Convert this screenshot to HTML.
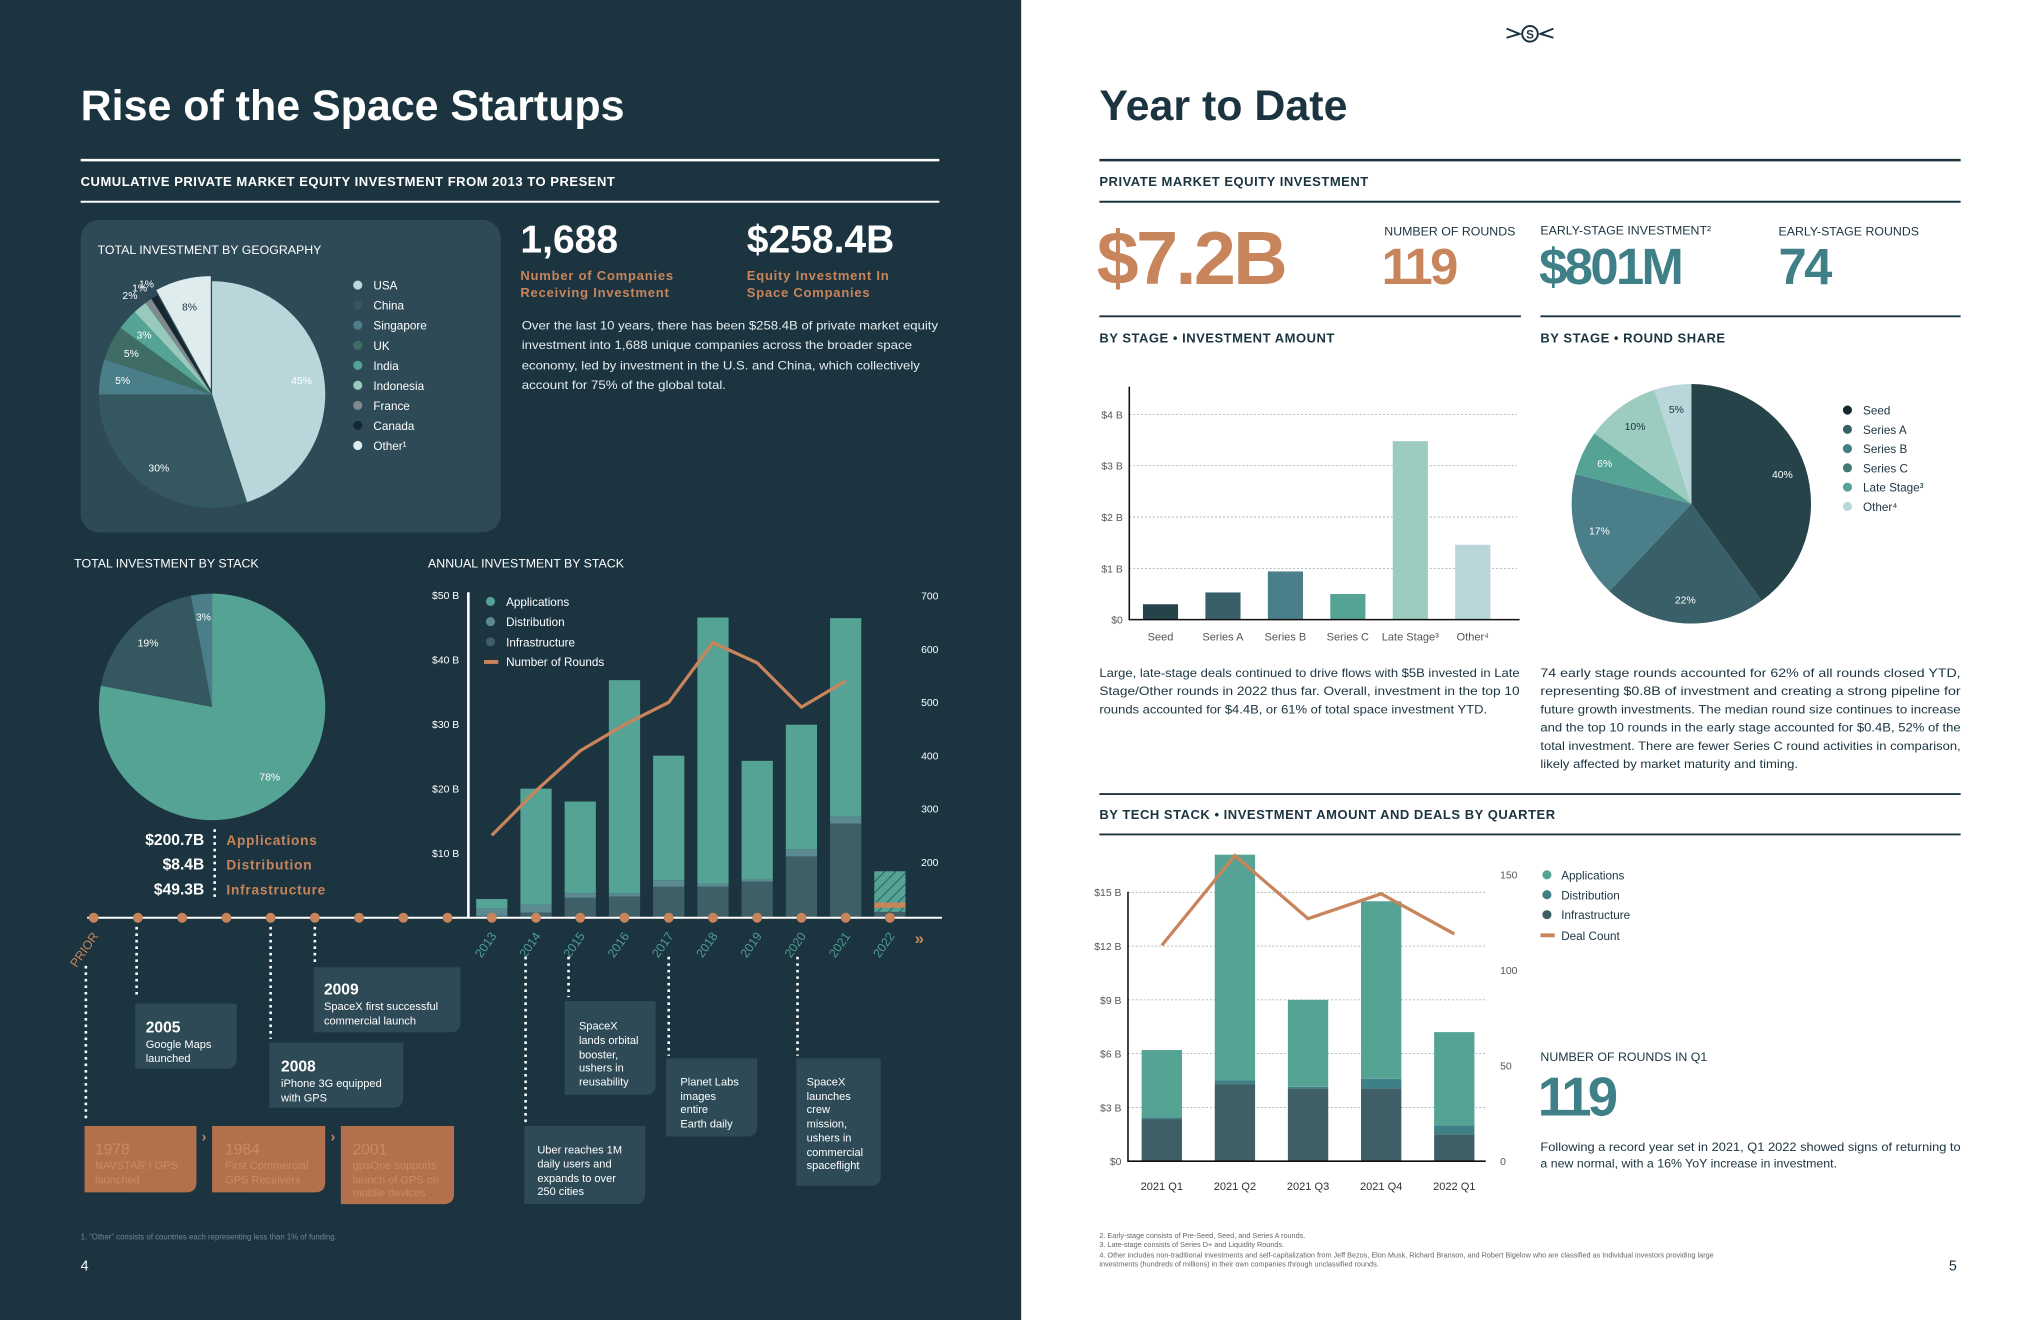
<!DOCTYPE html>
<html><head><meta charset="utf-8"><style>
html,body{margin:0;padding:0;background:#fff}
svg{display:block}
text{font-family:"Liberation Sans",sans-serif}
</style></head><body>
<svg id="page" width="2040" height="1320" viewBox="0 0 1568 1014" preserveAspectRatio="none" xmlns="http://www.w3.org/2000/svg">
<defs>
<pattern id="hatch" width="6" height="6" patternUnits="userSpaceOnUse" patternTransform="rotate(45)"><rect width="6" height="6" fill="#55a394"/><line x1="0" y1="0" x2="0" y2="6" stroke="#1b3440" stroke-width="1"/></pattern>
</defs>
<rect x="0" y="0" width="785" height="1014" fill="#1b3440"/>
<rect x="785" y="0" width="783" height="1014" fill="#ffffff"/>

<!-- LEFT PAGE -->
<text x="62" y="92" font-size="33" font-weight="bold" fill="#fff">Rise of the Space Startups</text>
<line x1="62" y1="123" x2="722" y2="123" stroke="#fff" stroke-width="2"/>
<text x="62" y="143" font-size="10" font-weight="bold" fill="#fff" letter-spacing="0.4">CUMULATIVE PRIVATE MARKET EQUITY INVESTMENT FROM 2013 TO PRESENT</text>
<line x1="62" y1="155" x2="722" y2="155" stroke="#fff" stroke-width="1.5"/>
<rect x="62" y="169" width="323" height="240" rx="14" fill="#2e4a56"/>
<text x="75" y="195" font-size="9.5" fill="#fff">TOTAL INVESTMENT BY GEOGRAPHY</text>
<g id="geoPie"></g>
<g id="geoLegend"></g>

<text x="400" y="194" font-size="30" font-weight="bold" fill="#fff">1,688</text>
<text x="574" y="194" font-size="30" font-weight="bold" fill="#fff">$258.4B</text>
<text x="400" y="215" font-size="10" font-weight="bold" fill="#c8845a" letter-spacing="0.6">Number of Companies</text>
<text x="400" y="228" font-size="10" font-weight="bold" fill="#c8845a" letter-spacing="0.6">Receiving Investment</text>
<text x="574" y="215" font-size="10" font-weight="bold" fill="#c8845a" letter-spacing="0.6">Equity Investment In</text>
<text x="574" y="228" font-size="10" font-weight="bold" fill="#c8845a" letter-spacing="0.6">Space Companies</text>
<g font-size="9" fill="#e4ecee">
<text x="401" y="253" textLength="320" lengthAdjust="spacingAndGlyphs">Over the last 10 years, there has been $258.4B of private market equity</text>
<text x="401" y="268" textLength="300" lengthAdjust="spacingAndGlyphs">investment into 1,688 unique companies across the broader space</text>
<text x="401" y="284" textLength="306" lengthAdjust="spacingAndGlyphs">economy, led by investment in the U.S. and China, which collectively</text>
<text x="401" y="299" textLength="157" lengthAdjust="spacingAndGlyphs">account for 75% of the global total.</text>
</g>

<text x="57" y="436" font-size="9.5" fill="#fff">TOTAL INVESTMENT BY STACK</text>
<text x="329" y="436" font-size="9.5" fill="#fff">ANNUAL INVESTMENT BY STACK</text>
<g id="stackPie"></g>
<line x1="165" y1="637" x2="165" y2="692" stroke="#fff" stroke-width="2" stroke-dasharray="2 3"/>
<g font-size="12" font-weight="bold">
<text x="157" y="649" text-anchor="end" fill="#fff">$200.7B</text><text x="174" y="649" fill="#c8845a" font-size="10.5" letter-spacing="0.6">Applications</text>
<text x="157" y="668" text-anchor="end" fill="#fff">$8.4B</text><text x="174" y="668" fill="#c8845a" font-size="10.5" letter-spacing="0.6">Distribution</text>
<text x="157" y="687" text-anchor="end" fill="#fff">$49.3B</text><text x="174" y="687" fill="#c8845a" font-size="10.5" letter-spacing="0.6">Infrastructure</text>
</g>

<g id="annual"></g>
<g id="timeline"></g>

<g fill="#fff">
<path d="M104 771 H182 V813 Q182 821 174 821 H104 Z" fill="#2e4a56"/>
<text x="112" y="793" font-size="12" font-weight="bold">2005</text><text x="112" y="805" font-size="8.5">Google Maps</text><text x="112" y="816" font-size="8.5">launched</text>
<path d="M241 743 H354 V785 Q354 793 346 793 H241 Z" fill="#2e4a56"/>
<text x="249" y="764" font-size="12" font-weight="bold">2009</text><text x="249" y="776" font-size="8.5">SpaceX first successful</text><text x="249" y="787" font-size="8.5">commercial launch</text>
<path d="M207 801 H310 V843 Q310 851 302 851 H207 Z" fill="#2e4a56"/>
<text x="216" y="823" font-size="12" font-weight="bold">2008</text><text x="216" y="835" font-size="8.5">iPhone 3G equipped</text><text x="216" y="846" font-size="8.5">with GPS</text>
<path d="M434 769 H504 V833 Q504 841 496 841 H434 Z" fill="#2e4a56"/>
<text x="445" y="791" font-size="8.5">SpaceX</text><text x="445" y="802" font-size="8.5">lands orbital</text><text x="445" y="813" font-size="8.5">booster,</text><text x="445" y="823" font-size="8.5">ushers in</text><text x="445" y="834" font-size="8.5">reusability</text>
<path d="M512 813 H582 V865 Q582 873 574 873 H512 Z" fill="#2e4a56"/>
<text x="523" y="834" font-size="8.5">Planet Labs</text><text x="523" y="845" font-size="8.5">images</text><text x="523" y="855" font-size="8.5">entire</text><text x="523" y="866" font-size="8.5">Earth daily</text>
<path d="M612 813 H677 V903 Q677 911 669 911 H612 Z" fill="#2e4a56"/>
<text x="620" y="834" font-size="8.5">SpaceX</text><text x="620" y="845" font-size="8.5">launches</text><text x="620" y="855" font-size="8.5">crew</text><text x="620" y="866" font-size="8.5">mission,</text><text x="620" y="877" font-size="8.5">ushers in</text><text x="620" y="888" font-size="8.5">commercial</text><text x="620" y="898" font-size="8.5">spaceflight</text>
<path d="M403 865 H496 V917 Q496 925 488 925 H403 Z" fill="#2e4a56"/>
<text x="413" y="886" font-size="8.5">Uber reaches 1M</text><text x="413" y="897" font-size="8.5">daily users and</text><text x="413" y="908" font-size="8.5">expands to over</text><text x="413" y="918" font-size="8.5">250 cities</text>
</g>
<g fill="#c98a62">
<path d="M65 865 H151 V908 Q151 916 143 916 H65 Z" fill="#b2714c"/>
<text x="73" y="887" font-size="12">1978</text><text x="73" y="898" font-size="8.5">NAVSTAR I GPS</text><text x="73" y="909" font-size="8.5">launched</text>
<path d="M163 865 H250 V908 Q250 916 242 916 H163 Z" fill="#b2714c"/>
<text x="173" y="887" font-size="12">1984</text><text x="173" y="898" font-size="8.5">First Commercial</text><text x="173" y="909" font-size="8.5">GPS Receivers</text>
<path d="M262 865 H349 V917 Q349 925 341 925 H262 Z" fill="#b2714c"/>
<text x="271" y="887" font-size="12">2001</text><text x="271" y="898" font-size="8.5">gpsOne supports</text><text x="271" y="909" font-size="8.5">launch of GPS on</text><text x="271" y="919" font-size="8.5">mobile devices</text>
<text x="155" y="877" font-size="11" fill="#c8845a" font-weight="bold">›</text>
<text x="254" y="877" font-size="11" fill="#c8845a" font-weight="bold">›</text>
</g>
<g stroke="#fff" stroke-width="2" stroke-dasharray="2 3">
<line x1="66" y1="742" x2="66" y2="862"/><line x1="105" y1="712" x2="105" y2="767"/><line x1="208" y1="712" x2="208" y2="798"/><line x1="242" y1="712" x2="242" y2="742"/>
<line x1="404" y1="735" x2="404" y2="862"/><line x1="437" y1="735" x2="437" y2="766"/><line x1="514" y1="735" x2="514" y2="811"/><line x1="613" y1="735" x2="613" y2="811"/>
</g>
<text x="62" y="952" font-size="6" fill="#6f8891">1. “Other” consists of countries each representing less than 1% of funding.</text>
<text x="62" y="976" font-size="11" fill="#fff">4</text>

<!-- RIGHT PAGE -->
<g stroke="#1b3440" fill="none" stroke-width="1.5">
<circle cx="1176" cy="26" r="6"/><path d="M1158 22 L1168 26 L1158 29 M1194 22 L1184 26 L1194 29"/>
<text x="1176" y="29.5" font-size="9" font-weight="bold" text-anchor="middle" fill="#1b3440" stroke="none">S</text>
</g>
<text x="845" y="92" font-size="33" font-weight="bold" fill="#1b3440">Year to Date</text>
<line x1="845" y1="123" x2="1507" y2="123" stroke="#1b3440" stroke-width="2"/>
<text x="845" y="143" font-size="10" font-weight="bold" fill="#1b3440" letter-spacing="0.4">PRIVATE MARKET EQUITY INVESTMENT</text>
<line x1="845" y1="155" x2="1507" y2="155" stroke="#1b3440" stroke-width="1.5"/>
<text x="843" y="218" font-size="58" font-weight="bold" fill="#c8845a" letter-spacing="-2">$7.2B</text>
<text x="1064" y="181" font-size="9.5" fill="#1b3440">NUMBER OF ROUNDS</text>
<text x="1062" y="218" font-size="39" font-weight="bold" fill="#c8845a" letter-spacing="-2">119</text>
<text x="1184" y="180" font-size="9.5" fill="#1b3440">EARLY-STAGE INVESTMENT²</text>
<text x="1183" y="218" font-size="39" font-weight="bold" fill="#3f7f88" letter-spacing="-2">$801M</text>
<text x="1367" y="181" font-size="9.5" fill="#1b3440">EARLY-STAGE ROUNDS</text>
<text x="1367" y="218" font-size="39" font-weight="bold" fill="#3f7f88" letter-spacing="-2">74</text>
<line x1="845" y1="243" x2="1169" y2="243" stroke="#1b3440" stroke-width="1.5"/>
<line x1="1184" y1="243" x2="1507" y2="243" stroke="#1b3440" stroke-width="1.5"/>
<text x="845" y="263" font-size="10" font-weight="bold" fill="#1b3440" letter-spacing="0.4">BY STAGE  •  INVESTMENT AMOUNT</text>
<text x="1184" y="263" font-size="10" font-weight="bold" fill="#1b3440" letter-spacing="0.4">BY STAGE  •  ROUND SHARE</text>
<g id="stageChart"></g>
<g id="sharePie"></g>
<g font-size="9" fill="#1b3440">
<text x="845" y="520" textLength="323" lengthAdjust="spacingAndGlyphs">Large, late-stage deals continued to drive flows with $5B invested in Late</text>
<text x="845" y="534" textLength="323" lengthAdjust="spacingAndGlyphs">Stage/Other rounds in 2022 thus far. Overall, investment in the top 10</text>
<text x="845" y="548" textLength="298" lengthAdjust="spacingAndGlyphs">rounds accounted for $4.4B, or 61% of total space investment YTD.</text>
</g>
<g font-size="9" fill="#1b3440">
<text x="1184" y="520" textLength="323" lengthAdjust="spacingAndGlyphs">74 early stage rounds accounted for 62% of all rounds closed YTD,</text>
<text x="1184" y="534" textLength="323" lengthAdjust="spacingAndGlyphs">representing $0.8B of investment and creating a strong pipeline for</text>
<text x="1184" y="548" textLength="323" lengthAdjust="spacingAndGlyphs">future growth investments. The median round size continues to increase</text>
<text x="1184" y="562" textLength="323" lengthAdjust="spacingAndGlyphs">and the top 10 rounds in the early stage accounted for $0.4B, 52% of the</text>
<text x="1184" y="576" textLength="323" lengthAdjust="spacingAndGlyphs">total investment. There are fewer Series C round activities in comparison,</text>
<text x="1184" y="590" textLength="198" lengthAdjust="spacingAndGlyphs">likely affected by market maturity and timing.</text>
</g>
<line x1="845" y1="610" x2="1507" y2="610" stroke="#1b3440" stroke-width="1.5"/>
<text x="845" y="629" font-size="10" font-weight="bold" fill="#1b3440" letter-spacing="0.4">BY TECH STACK  •  INVESTMENT AMOUNT AND DEALS BY QUARTER</text>
<line x1="845" y1="641" x2="1507" y2="641" stroke="#1b3440" stroke-width="1.5"/>
<g id="quarterChart"></g>
<text x="1184" y="815" font-size="9.5" fill="#1b3440">NUMBER OF ROUNDS IN Q1</text>
<text x="1182" y="857" font-size="42" font-weight="bold" fill="#3f7f88" letter-spacing="-3">119</text>
<g font-size="9" fill="#1b3440">
<text x="1184" y="884" textLength="323" lengthAdjust="spacingAndGlyphs">Following a record year set in 2021, Q1 2022 showed signs of returning to</text>
<text x="1184" y="897" textLength="228" lengthAdjust="spacingAndGlyphs">a new normal, with a 16% YoY increase in investment.</text>
</g>
<g font-size="5.6" fill="#666">
<text x="845" y="951">2. Early-stage consists of Pre-Seed, Seed, and Series A rounds.</text>
<text x="845" y="958">3. Late-stage consists of Series D+ and Liquidity Rounds.</text>
<text x="845" y="966">4. Other includes non-traditional investments and self-capitalization from Jeff Bezos, Elon Musk, Richard Branson, and Robert Bigelow who are classified as Individual investors providing large</text>
<text x="845" y="973">investments (hundreds of millions) in their own companies through unclassified rounds.</text>
</g>
<text x="1498" y="976" font-size="11" fill="#1b3440">5</text>
</svg>

<script>
// ---------- DATA ----------
const geoLabels = ['USA','China','Singapore','UK','India','Indonesia','France','Canada','Other¹'];
const geoValues = [45,30,5,5,3,2,1,1,8];
const geoColors = ['#b9d7da','#35575f','#4a7f8a','#3f6d66','#55a394','#99c9bd','#7f8a8c','#15282f','#dfecee'];

const stackLabels = ['Applications','Infrastructure','Distribution'];
const stackValues = [78,19,3];
const stackColors = ['#55a394','#35575f','#4a7f8a'];

const years = ['2013','2014','2015','2016','2017','2018','2019','2020','2021','2022'];
const annualInfra = [0.3,0.8,3.1,3.3,4.8,4.8,5.6,9.5,14.6,0.9];
const annualDist = [1.1,1.2,0.7,0.5,1.0,0.5,0.4,1.1,1.1,0.0];
const annualApps = [1.5,18.0,14.2,33.0,19.3,41.2,18.3,19.3,30.7,6.3];
const annualRounds = [250,334,409,458,500,612,574,491,540];
const rounds2022 = 119;
const annualLeftTicks = [10,20,30,40,50];
const annualRightTicks = [200,300,400,500,600,700];

const stageLabels = ['Seed','Series A','Series B','Series C','Late Stage³','Other⁴'];
const stageValues = [0.30,0.53,0.94,0.50,3.48,1.46];
const stageColors = ['#264349','#395f68','#4a7f8a','#55a394','#9ccbbf','#b9d7da'];
const stageTicks = [0,1,2,3,4];

const shareLabels = ['Seed','Series A','Series B','Series C','Late Stage³','Other⁴'];
const shareValues = [40,22,17,6,10,5];
const shareColors = ['#264349','#395f68','#4a7f8a','#55a394','#9ccbbf','#b9d7da'];
const shareLegendColors = ['#15282f','#395f68','#3f7f88','#3f7a6e','#55a394','#b9d7da'];

const quarters = ['2021 Q1','2021 Q2','2021 Q3','2021 Q4','2022 Q1'];
const qInfra = [2.35,4.3,4.05,4.05,1.5];
const qDist = [0.1,0.2,0.1,0.55,0.5];
const qApps = [3.75,12.6,4.85,9.9,5.2];
const qDeals = [113,160,127,140,119];
const qLeftTicks = [0,3,6,9,12,15];
const qRightTicks = [0,50,100,150];

// ---------- HELPERS ----------
const NS='http://www.w3.org/2000/svg';
function mk(parent, tag, attrs, txt){
  const e=document.createElementNS(NS,tag);
  for(const k in attrs) e.setAttribute(k,attrs[k]);
  if(txt!==undefined) e.textContent=txt;
  parent.appendChild(e); return e;
}
function pt(cx,cy,r,deg){const a=(deg-90)*Math.PI/180;return [cx+r*Math.cos(a),cy+r*Math.sin(a)];}
function arc(cx,cy,r,a0,a1){
  const p0=pt(cx,cy,r,a0),p1=pt(cx,cy,r,a1);
  return 'M'+cx+' '+cy+' L'+p0[0]+' '+p0[1]+' A'+r+' '+r+' 0 '+((a1-a0)>180?1:0)+' 1 '+p1[0]+' '+p1[1]+' Z';
}
function pie(g,cx,cy,r,vals,cols,labFill,opts){
  const tot=vals.reduce((a,b)=>a+b,0); let a=0;
  vals.forEach((v,i)=>{
    const a1=a+v/tot*360, mid=(a+a1)/2;
    let ox=0,oy=0;
    if(opts.explode===i){const q=pt(0,0,4,mid);ox=q[0];oy=q[1];}
    const p=mk(g,'path',{d:arc(cx+ox,cy+oy,r,a,a1),fill:cols[i]});
    
    
    const rr = v < opts.small ? r+12 : r*0.8;
    const lp=pt(cx,cy,rr,mid);
    const fill = (opts.dark||[]).indexOf(i) !== -1 ? '#1b3440' : labFill;
    const t=mk(g,'text',{x:lp[0],y:lp[1]+3,'font-size':opts.fs,fill:fill,'text-anchor':'middle'},Math.round(v/tot*100)+'%');
    
    
    a=a1;
  });
}

// ---------- GEO PIE ----------
const geoG=document.getElementById('geoPie');
pie(geoG,163,303,87,geoValues,geoColors,'#fff',{explode:8,small:3,fs:8,dark:[8]});
const geoL=document.getElementById('geoLegend');
geoLabels.forEach((l,i)=>{
  const c=mk(geoL,'circle',{cx:275,cy:219+15.4*i,r:3.5,fill:geoColors[i]});
  
  
  const t=mk(geoL,'text',{x:287,y:222.5+15.4*i,'font-size':9,fill:'#fff'},l);
  
  
});

// ---------- STACK PIE ----------
pie(document.getElementById('stackPie'),163,543,87,stackValues,stackColors,'#fff',{explode:-1,small:0,fs:8});

// ---------- ANNUAL CHART ----------
const an=document.getElementById('annual');
const yL=v=>705-v*4.96, yR=r=>744-r*0.409;
const xYear=i=>378+i*34;
const axisL=mk(an,'line',{x1:360,y1:455,x2:360,y2:705,stroke:'#fff','stroke-width':2});


annualLeftTicks.forEach(v=>{
  const t=mk(an,'text',{x:353,y:yL(v)+3,'font-size':8,fill:'#fff','text-anchor':'end'},'$'+v+' B');
  
  
});
annualRightTicks.forEach(v=>{
  const t=mk(an,'text',{x:708,y:yR(v)+3,'font-size':8,fill:'#fff'},String(v));
  
  
});
years.forEach((yr,i)=>{
  const x=xYear(i)-12,w=24;
  const b0=mk(an,'rect',{x:x,y:yL(annualInfra[i]),width:w,height:annualInfra[i]*4.96,fill:'#3f5f66'});
  
  
  const s1=annualInfra[i]+annualDist[i];
  const b1=mk(an,'rect',{x:x,y:yL(s1),width:w,height:annualDist[i]*4.96,fill:'#5b8a93'});
  
  
  const s2=s1+annualApps[i];
  const b2=mk(an,'rect',{x:x,y:yL(s2),width:w,height:annualApps[i]*4.96,fill:i===years.length-1?'url(#hatch)':'#55a394'});
  
  
});
const line=mk(an,'polyline',{points:annualRounds.map((r,i)=>xYear(i)+','+yR(r)).join(' '),fill:'none',stroke:'#c8845a','stroke-width':2.5});


const ytd=mk(an,'rect',{x:xYear(9)-12,y:yR(rounds2022)-2,width:24,height:4,fill:'#c8845a'});


const legItems=['Applications','Distribution','Infrastructure'],legCols=['#55a394','#5b8a93','#3f5f66'];
legItems.forEach((l,i)=>{
  const c=mk(an,'circle',{cx:377,cy:462+15.5*i,r:3.5,fill:legCols[i]});
  
  
  const t=mk(an,'text',{x:389,y:465.5+15.5*i,'font-size':9,fill:'#fff'},l);
  
  
});
const ld=mk(an,'rect',{x:372,y:507,width:11,height:3,fill:'#c8845a'});


const lt=mk(an,'text',{x:389,y:511.5,'font-size':9,fill:'#fff'},'Number of Rounds');



// ---------- TIMELINE ----------
const tl=document.getElementById('timeline');
const tline=mk(tl,'line',{x1:67,y1:705,x2:724,y2:705,stroke:'#fff','stroke-width':1.5});


for(let i=0;i!==9;i++){
  const d=mk(tl,'circle',{cx:72+34*i,cy:705,r:3.8,fill:'#c8845a'});
  
  
}
years.forEach((yr,i)=>{
  const d=mk(tl,'circle',{cx:xYear(i),cy:705,r:3.8,fill:'#c8845a'});
  
  
  const t=mk(tl,'text',{x:xYear(i)+4,y:719,'font-size':9.5,fill:'#4f9c92','text-anchor':'end',transform:'rotate(-55 '+(xYear(i)+4)+' 719)'},yr);
  
  
});
const pr=mk(tl,'text',{x:76,y:719,'font-size':9.5,fill:'#c8845a','text-anchor':'end',transform:'rotate(-55 76 719)'},'PRIOR');


const more=mk(tl,'text',{x:703,y:725,'font-size':13,'font-weight':'bold',fill:'#c8845a'},'»');



// ---------- STAGE BAR CHART ----------
const sc=document.getElementById('stageChart');
const yS=v=>476-v*39.4, xS=i=>892+i*48;
stageTicks.forEach(v=>{
  if(v>0){const g=mk(sc,'line',{x1:868,y1:yS(v),x2:1166,y2:yS(v),stroke:'#9aa','stroke-width':0.6,'stroke-dasharray':'1.5 1.5'});
  
  }
  const t=mk(sc,'text',{x:863,y:yS(v)+3,'font-size':8,fill:'#555','text-anchor':'end'},v===0?'$0':'$'+v+' B');
  
  
});
stageValues.forEach((v,i)=>{
  const b=mk(sc,'rect',{x:xS(i)-13.5,y:yS(v),width:27,height:v*39.4,fill:stageColors[i]});
  
  
  const t=mk(sc,'text',{x:xS(i),y:492,'font-size':8.5,fill:'#555','text-anchor':'middle'},stageLabels[i]);
  
  
});
const sax=mk(sc,'path',{d:'M868 297 V476 H1168',fill:'none',stroke:'#111','stroke-width':1.2});



// ---------- SHARE PIE ----------
const sp=document.getElementById('sharePie');
pie(sp,1300,387,92,shareValues,shareColors,'#fff',{explode:-1,small:0,fs:8,dark:[4,5]});
shareLabels.forEach((l,i)=>{
  const c=mk(sp,'circle',{cx:1420,cy:315+14.8*i,r:3.5,fill:shareLegendColors[i]});
  
  
  const t=mk(sp,'text',{x:1432,y:318.5+14.8*i,'font-size':9,fill:'#1b3440'},l);
  
  
});

// ---------- QUARTER CHART ----------
const qc=document.getElementById('quarterChart');
const yQ=v=>892-v*13.77, yD=d=>892-d*1.467, xQ=i=>893+i*56.2;
qLeftTicks.forEach(v=>{
  if(v>0){const g=mk(qc,'line',{x1:867,y1:yQ(v),x2:1142,y2:yQ(v),stroke:'#9aa','stroke-width':0.6,'stroke-dasharray':'1.5 1.5'});
  
  }
  const t=mk(qc,'text',{x:862,y:yQ(v)+3,'font-size':8,fill:'#555','text-anchor':'end'},v===0?'$0':'$'+v+' B');
  
  
});
qRightTicks.forEach(v=>{
  const t=mk(qc,'text',{x:1153,y:yD(v)+3,'font-size':8,fill:'#555'},String(v));
  
  
});
quarters.forEach((q,i)=>{
  const x=xQ(i)-15.5,w=31;
  const b0=mk(qc,'rect',{x:x,y:yQ(qInfra[i]),width:w,height:qInfra[i]*13.77,fill:'#3f5f66'});
  
  
  const s1=qInfra[i]+qDist[i];
  const b1=mk(qc,'rect',{x:x,y:yQ(s1),width:w,height:qDist[i]*13.77,fill:'#3f7f88'});
  
  
  const s2=s1+qApps[i];
  const b2=mk(qc,'rect',{x:x,y:yQ(s2),width:w,height:qApps[i]*13.77,fill:'#55a394'});
  
  
  const t=mk(qc,'text',{x:xQ(i),y:914,'font-size':8.5,fill:'#333','text-anchor':'middle'},q);
  
  
});
const qax=mk(qc,'path',{d:'M867 685 V892 H1142',fill:'none',stroke:'#111','stroke-width':1.2});


const ql=mk(qc,'polyline',{points:qDeals.map((d,i)=>xQ(i)+','+yD(d)).join(' '),fill:'none',stroke:'#c8845a','stroke-width':2.5});


const qLeg=['Applications','Distribution','Infrastructure'],qLegC=['#55a394','#3f7f88','#3f5f66'];
qLeg.forEach((l,i)=>{
  const c=mk(qc,'circle',{cx:1189,cy:672+15.3*i,r:3.5,fill:qLegC[i]});
  
  
  const t=mk(qc,'text',{x:1200,y:675.5+15.3*i,'font-size':9,fill:'#1b3440'},l);
  
  
});
const qd=mk(qc,'rect',{x:1184,y:717,width:11,height:3,fill:'#c8845a'});


const qdt=mk(qc,'text',{x:1200,y:722,'font-size':9,fill:'#1b3440'},'Deal Count');


</script>
</body></html>
